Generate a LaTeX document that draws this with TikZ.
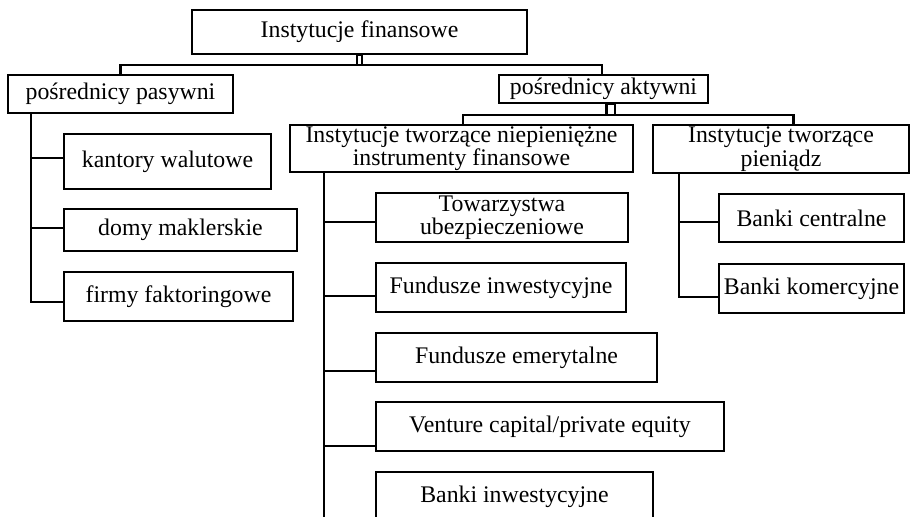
\documentclass[tikz,border=0pt]{standalone}
\usepackage{fontspec}
\setmainfont{Liberation Serif}
\begin{document}
\begin{tikzpicture}[x=1pt,y=-1pt,
  every node/.style={font=\fontsize{23.8}{23.5}\selectfont},
  box/.style={draw, line width=2.1pt, inner sep=0pt, align=center},
  conn/.style={line width=2.1pt}]
\useasboundingbox (0,0) rectangle (911,517);
\clip (0,0) rectangle (911,517);
% level 0
\node[box, minimum width=335pt, minimum height=44pt] (fin) at (359.5,32) {Instytucje finansowe};
% level 1
\node[box, minimum width=225pt, minimum height=38pt] (pas) at (120.5,94) {pośrednicy pasywni};
\node[box, minimum width=209pt, minimum height=28pt] (akt) at (603.5,89) {pośrednicy aktywni};
% level 2
\node[box, minimum width=343pt, minimum height=47pt] (niep) at (461.5,148.5) {Instytucje tworzące niepieniężne\\instrumenty finansowe};
\node[box, minimum width=256pt, minimum height=48pt] (pien) at (781,149) {Instytucje tworzące\\pieniądz};
% passive
\node[box, minimum width=207pt, minimum height=55pt] (kan) at (167.5,161.5) {kantory walutowe};
\node[box, minimum width=233pt, minimum height=42pt] (dom) at (180.5,230) {domy maklerskie};
\node[box, minimum width=229pt, minimum height=49pt] (firm) at (178.5,296.5) {firmy faktoringowe};
% non-monetary
\node[box, minimum width=252pt, minimum height=49pt] (tow) at (502,217.5) {Towarzystwa\\ubezpieczeniowe};
\node[box, minimum width=250pt, minimum height=49pt] (finw) at (501,287.5) {Fundusze inwestycyjne};
\node[box, minimum width=281pt, minimum height=49pt] (emer) at (516.5,357.5) {Fundusze emerytalne};
\node[box, minimum width=348pt, minimum height=49pt] (vent) at (550,426.5) {Venture capital/private equity};
\node[box, minimum width=277pt, minimum height=49pt] (binw) at (514.5,496.5) {Banki inwestycyjne};
% monetary
\node[box, minimum width=185pt, minimum height=48pt] (bc) at (811.5,218) {Banki centralne};
\node[box, minimum width=185pt, minimum height=49pt] (bk) at (811.5,288.5) {Banki komercyjne};
% helper levels
\coordinate (y1) at (0,65);
\coordinate (y2) at (0,115);
% top connector
\draw[conn] ([xshift=-2.5pt]fin.south) rectangle ([xshift=2.5pt]fin.south |- y1);
\draw[conn] (pas.north) |- ([xshift=-1.5pt]akt.north |- y1) -- ([xshift=-1.5pt]akt.north);
% active connector
\draw[conn] ([xshift=3pt]akt.south) rectangle ([xshift=11.5pt]akt.south |- y2);
\draw[conn] ([xshift=1.5pt]niep.north) |- ([xshift=12.5pt]pien.north |- y2) -- ([xshift=12.5pt]pien.north);
% passive bus
\draw[conn] ([xshift=24pt]pas.south west) |- ([yshift=3.5pt]kan.west);
\draw[conn] ([xshift=24pt]pas.south west) |- ([yshift=2pt]dom.west);
\draw[conn] ([xshift=24pt]pas.south west) |- ([yshift=-5.5pt]firm.west);
% non-monetary bus
\draw[conn] ([xshift=35pt]niep.south west) |- ([yshift=-4.5pt]tow.west);
\draw[conn] ([xshift=35pt]niep.south west) |- ([yshift=-8.5pt]finw.west);
\draw[conn] ([xshift=35pt]niep.south west) |- ([yshift=-13.5pt]emer.west);
\draw[conn] ([xshift=35pt]niep.south west) |- ([yshift=-19.5pt]vent.west);
\draw[conn] ([xshift=35pt]niep.south west) |- ([yshift=-30pt]binw.west);
% monetary bus
\draw[conn] ([xshift=27pt]pien.south west) |- ([yshift=-4pt]bc.west);
\draw[conn] ([xshift=27pt]pien.south west) |- ([yshift=-8.5pt]bk.west);
\end{tikzpicture}
\end{document}
